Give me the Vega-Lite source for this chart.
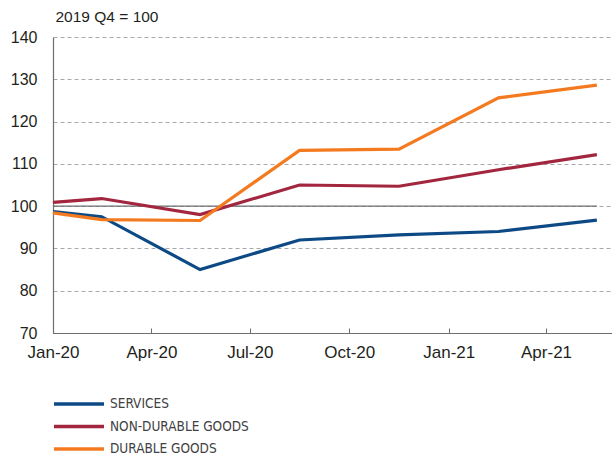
{
  "$schema": "https://vega.github.io/schema/vega-lite/v6.json",
  "width": 559,
  "height": 296,
  "autosize": {"type": "none"},
  "padding": {"left": 53, "top": 37, "right": 0, "bottom": 124},
  "background": "white",
  "config": {"view": {"stroke": null}},
  "data": {"values": [
    {"date": "2020-01-01", "series": "SERVICES", "value": 98.7},
    {"date": "2020-02-15", "series": "SERVICES", "value": 97.5},
    {"date": "2020-05-16", "series": "SERVICES", "value": 85.0},
    {"date": "2020-08-16", "series": "SERVICES", "value": 92.0},
    {"date": "2020-11-16", "series": "SERVICES", "value": 93.2},
    {"date": "2021-02-16", "series": "SERVICES", "value": 94.0},
    {"date": "2021-05-18", "series": "SERVICES", "value": 96.7},
    {"date": "2020-01-01", "series": "NON-DURABLE GOODS", "value": 100.9},
    {"date": "2020-02-15", "series": "NON-DURABLE GOODS", "value": 101.8},
    {"date": "2020-05-16", "series": "NON-DURABLE GOODS", "value": 98.0},
    {"date": "2020-08-16", "series": "NON-DURABLE GOODS", "value": 105.0},
    {"date": "2020-11-16", "series": "NON-DURABLE GOODS", "value": 104.7},
    {"date": "2021-02-16", "series": "NON-DURABLE GOODS", "value": 108.6},
    {"date": "2021-05-18", "series": "NON-DURABLE GOODS", "value": 112.2},
    {"date": "2020-01-01", "series": "DURABLE GOODS", "value": 98.4},
    {"date": "2020-02-15", "series": "DURABLE GOODS", "value": 96.8},
    {"date": "2020-05-16", "series": "DURABLE GOODS", "value": 96.6},
    {"date": "2020-08-16", "series": "DURABLE GOODS", "value": 113.2},
    {"date": "2020-11-16", "series": "DURABLE GOODS", "value": 113.5},
    {"date": "2021-02-16", "series": "DURABLE GOODS", "value": 125.6},
    {"date": "2021-05-18", "series": "DURABLE GOODS", "value": 128.6}
  ]},
  "layer": [
    {
      "data": {"values": [{"start": "2020-01-01", "end": "2021-05-18", "y": 100}]},
      "mark": {"type": "rule", "color": "#6d6e70", "strokeWidth": 1.2},
      "encoding": {
        "x": {"field": "start", "type": "temporal"},
        "x2": {"field": "end"},
        "y": {"field": "y", "type": "quantitative"}
      }
    },
    {
      "mark": {"type": "line", "strokeWidth": 3.2, "strokeJoin": "miter"},
      "encoding": {
        "x": {
          "field": "date", "type": "temporal",
          "scale": {"domain": ["2020-01-01", "2021-06-01"]},
          "axis": {
            "values": ["2020-01-01", "2020-04-01", "2020-07-01", "2020-10-01", "2021-01-01", "2021-04-01"],
            "format": "%b-%y",
            "title": null,
            "grid": false,
            "domainColor": "#6d6e70",
            "domainWidth": 1.2,
            "tickColor": "#6d6e70",
            "tickSize": -5,
            "labelPadding": 16,
            "labelFont": "Liberation Sans",
            "labelFontSize": 17,
            "labelColor": "#231f20",
            "labelFlush": false
          }
        },
        "y": {
          "field": "value", "type": "quantitative",
          "scale": {"domain": [70, 140], "nice": false, "zero": false},
          "axis": {
            "values": [70, 80, 90, 100, 110, 120, 130, 140],
            "title": "2019 Q4 = 100",
            "titleAngle": 0,
            "titleX": 2,
            "titleY": -16,
            "titleAlign": "left",
            "titleBaseline": "alphabetic",
            "titleFont": "Liberation Sans",
            "titleFontSize": 15.5,
            "titleFontWeight": "normal",
            "titleColor": "#231f20",
            "ticks": false,
            "labelPadding": 16,
            "labelFont": "Liberation Sans",
            "labelFontSize": 16,
            "labelColor": "#231f20",
            "domainColor": "#6d6e70",
            "domainWidth": 1.2,
            "gridColor": "#a7a9ac",
            "gridDash": [4, 3],
            "gridWidth": 1
          }
        },
        "color": {
          "field": "series", "type": "nominal",
          "sort": ["SERVICES", "NON-DURABLE GOODS", "DURABLE GOODS"],
          "scale": {"domain": ["SERVICES", "NON-DURABLE GOODS", "DURABLE GOODS"], "range": ["#0d4a85", "#a3263f", "#f47a20"]},
          "legend": {
            "orient": "none",
            "legendX": 19,
            "legendY": 360,
            "title": null,
            "symbolType": "M-5,0H5",
            "symbolSize": 100,
            "symbolStrokeWidth": 3.5,
            "labelFont": "DejaVu Sans Condensed",
            "labelFontSize": 13.5,
            "labelColor": "#414042",
            "labelOffset": 24,
            "rowPadding": 8.5,
            "labelLimit": 300
          }
        }
      }
    }
  ]
}
